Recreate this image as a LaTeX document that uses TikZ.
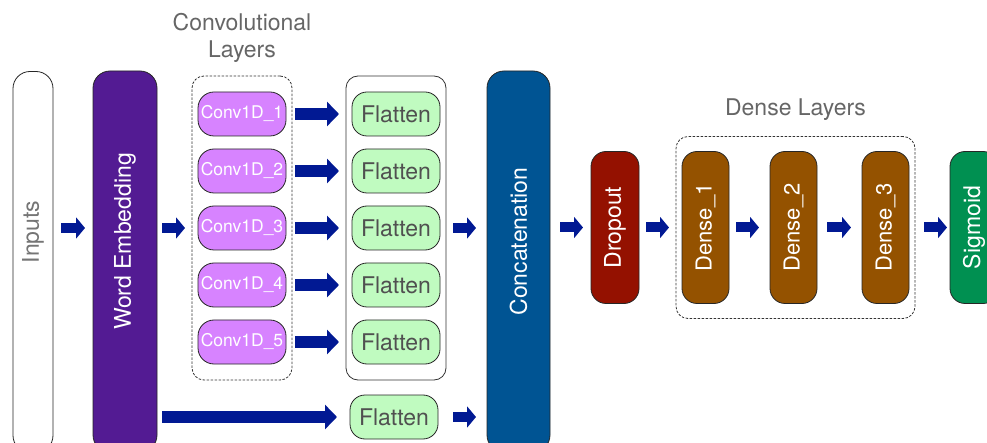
\documentclass[tikz,border=0pt]{standalone}
\usepackage{fontspec}
\setmainfont{TeX Gyre Heros}
\usepackage{graphicx}
\usepackage{tikz}
\usetikzlibrary{positioning,fit,arrows.meta}
\definecolor{plum}{HTML}{531B93}
\definecolor{lavender}{HTML}{D783FF}
\definecolor{mint}{HTML}{C0FBC0}
\definecolor{ocean}{HTML}{005493}
\definecolor{cayenne}{HTML}{941100}
\definecolor{mocha}{HTML}{945200}
\definecolor{moss}{HTML}{009051}
\definecolor{blueberry}{HTML}{011993}
\definecolor{capgray}{HTML}{666666}
\definecolor{flatgray}{HTML}{505050}
\tikzset{box/.style={draw=black!85,rounded corners=15pt,inner sep=0pt,outer sep=0pt,line width=0.8pt,
		text=white,font=\fontsize{23}{27}\selectfont},
	 conv/.style={box,fill=lavender,rounded corners=16pt,minimum width=88pt,minimum height=44pt,
		font=\fontsize{17.5}{20}\selectfont},
	 flat/.style={box,fill=mint,text=flatgray,minimum width=88pt,minimum height=44pt},
	 tall/.style={box,minimum width=47pt,minimum height=152pt},
	 big/.style={box,minimum height=381pt,rounded corners=17pt},
	 vtext/.style={rotate=90,inner sep=0pt,text=white,font=\fontsize{23}{27}\selectfont},
	 group/.style={draw=black!80,rounded corners=12pt,inner xsep=6pt,inner ysep=16pt,line width=0.8pt},
	 dotted box/.style={group,dash pattern=on 2.5pt off 1.5pt},
	 caption/.style={inner sep=0pt,align=center,text=capgray,font=\fontsize{23}{27}\selectfont},
	 flow/.style={draw=blueberry,line width=10pt,-{Triangle[length=9pt,width=21pt]}},
	 longflow/.style={draw=blueberry,line width=12pt,-{Triangle[length=12pt,width=24pt]}},
	 node distance = 13pt
	 }

\begin{document}
\begin{tikzpicture}[x=1pt,y=-1pt] % text CNN with five Conv1D branches
	\useasboundingbox (0,0) rectangle (987,443);
	\node[big,fill=white,minimum width=40pt] (in) at (33,262) {};
	\node[vtext,text=capgray!90] (int) at ([yshift=30pt]in.center) {Inputs};
	\node[big,fill=plum,minimum width=64pt] (we) at (125,261.5) {};
	\node[vtext] (wet) at ([yshift=20pt]we.center) {Word Embedding};
	\node[conv] (c1) at (242,114) {Conv1D\_1};
	\node[conv] (c2) [below= of c1] {Conv1D\_2};
	\node[conv] (c3) [below= of c2] {Conv1D\_3};
	\node[conv] (c4) [below= of c3] {Conv1D\_4};
	\node[conv] (c5) [below= of c4] {Conv1D\_5};
	\node[flat] (f1) [right=66pt of c1] {Flatten};
	\node[flat] (f2) [right=66pt of c2] {Flatten};
	\node[flat] (f3) [right=66pt of c3] {Flatten};
	\node[flat] (f4) [right=66pt of c4] {Flatten};
	\node[flat] (f5) [right=66pt of c5] {Flatten};
	\node[flat] (f6) at (394,417) {Flatten};
	\node[dotted box,fit=(c1)(c5)] (cg) {};
	\node[group,fit=(f1)(f5)] (fg) {};
	\node[caption] (cl) [above=13pt of cg] {Convolutional\\Layers};
	\node[big,fill=ocean,minimum width=63pt] (cc) at (518.5,261.5) {};
	\node[vtext] (cct) at ([yshift=20pt]cc.center) {Concatenation};
	\node[tall,fill=mocha,font=\fontsize{22}{26}\selectfont] (d1) at (705.5,227.5) {\rotatebox{90}{Dense\_1}};
	\node[tall,fill=mocha,font=\fontsize{22}{26}\selectfont] (d2) [right=41pt of d1] {\rotatebox{90}{Dense\_2}};
	\node[tall,fill=mocha,font=\fontsize{22}{26}\selectfont] (d3) [right=45pt of d2] {\rotatebox{90}{Dense\_3}};
	\node[tall,fill=moss,minimum width=48pt] (sg) [right=41pt of d3] {\rotatebox{90}{Sigmoid}};
	\node[tall,fill=cayenne,minimum width=48pt] (dr) [left=43pt of d1] {\rotatebox{90}{Dropout}};
	\node[dotted box,fit=(d1)(d3),inner ysep=15pt] (dg) {};
	\node[caption] (dl) [above=15pt of dg] {Dense Layers};
	\draw[flow,shorten <=8pt,shorten >=8pt] (in.east |- c3) -- (we.west |- c3);
	\draw[flow,shorten <=5pt,shorten >=13pt] (we.east |- c3) -- (c3.west);
	\foreach \i in {1,...,5}
		\draw[longflow,shorten <=9pt,shorten >=13pt] (c\i) -- (f\i);
	\draw[longflow,shorten <=5pt,shorten >=13pt] (we.east |- f6) -- (f6);
	\draw[flow,shorten <=13pt,shorten >=11pt] (f3) -- (cc.west |- f3);
	\draw[flow,shorten <=15pt,shorten >=11pt] (f6) -- (cc.west |- f6);
	\draw[flow,shorten <=10pt,shorten >=8pt] (cc.east |- dr) -- (dr);
	\draw[flow,shorten <=7pt,shorten >=13pt] (dr) -- (d1);
	\draw[flow,shorten <=7pt,shorten >=11pt] (d1) -- (d2);
	\draw[flow,shorten <=10pt,shorten >=11pt] (d2) -- (d3);
	\draw[flow,shorten <=15pt,shorten >=3pt] (d3) -- (sg);
\end{tikzpicture}
\end{document}
